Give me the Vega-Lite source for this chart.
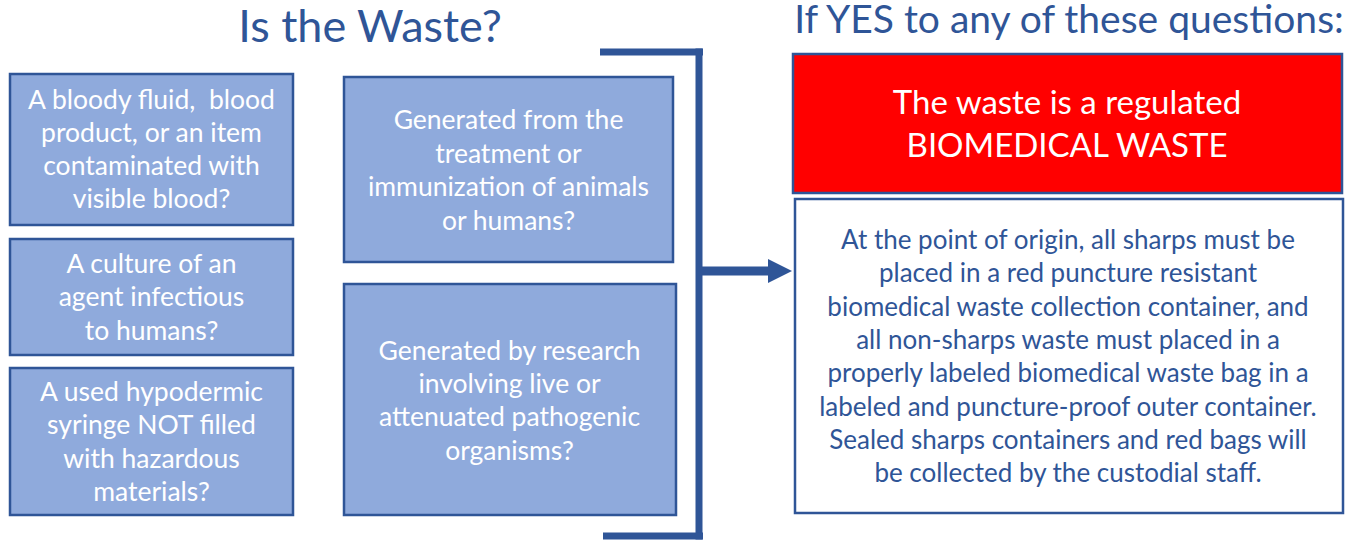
{
  "$schema": "https://vega.github.io/schema/vega-lite/v6.json",
  "width": 1347,
  "height": 540,
  "padding": 0,
  "autosize": {"type": "none"},
  "background": "white",
  "config": {"view": {"stroke": null}},
  "datasets": {
    "boxes": [
      {"box": "q1", "kind": "question", "x": 10, "x2": 293, "y": 74, "y2": 225},
      {"box": "q2", "kind": "question", "x": 10, "x2": 293, "y": 239, "y2": 355},
      {"box": "q3", "kind": "question", "x": 10, "x2": 293, "y": 368, "y2": 515},
      {"box": "q4", "kind": "question", "x": 344, "x2": 673, "y": 77, "y2": 262},
      {"box": "q5", "kind": "question", "x": 344, "x2": 676, "y": 284, "y2": 515},
      {"box": "result", "kind": "result", "x": 793, "x2": 1342, "y": 54, "y2": 193},
      {"box": "info", "kind": "info", "x": 795, "x2": 1343, "y": 199, "y2": 513}
    ],
    "bracket": [
      {"seg": "top", "x": 600, "x2": 703, "y": 52, "y2": 52},
      {"seg": "spine", "x": 699, "x2": 699, "y": 48.5, "y2": 539.5},
      {"seg": "bottom", "x": 603, "x2": 703, "y": 536, "y2": 536},
      {"seg": "shaft", "x": 699, "x2": 772, "y": 271, "y2": 271}
    ],
    "arrowhead": [
      {"x": 780, "y": 271}
    ],
    "texts": [
      {"role": "title", "x": 370, "y": 28, "t": "Is the Waste?"},
      {"role": "title2", "x": 1069, "y": 21, "t": "If YES to any of these questions:"},
      {"role": "question", "x": 151.5, "y": 101, "t": "A bloody fluid,\u00a0 blood"},
      {"role": "question", "x": 151.5, "y": 134, "t": "product, or an item"},
      {"role": "question", "x": 151.5, "y": 167, "t": "contaminated with"},
      {"role": "question", "x": 151.5, "y": 200, "t": "visible blood?"},
      {"role": "question", "x": 151.5, "y": 265, "t": "A culture of an"},
      {"role": "question", "x": 151.5, "y": 298, "t": "agent infectious"},
      {"role": "question", "x": 151.5, "y": 332, "t": "to humans?"},
      {"role": "question", "x": 151.5, "y": 393, "t": "A used hypodermic"},
      {"role": "question", "x": 151.5, "y": 426, "t": "syringe NOT filled"},
      {"role": "question", "x": 151.5, "y": 460, "t": "with hazardous"},
      {"role": "question", "x": 151.5, "y": 493, "t": "materials?"},
      {"role": "question", "x": 508.5, "y": 121, "t": "Generated from the"},
      {"role": "question", "x": 508.5, "y": 155, "t": "treatment or"},
      {"role": "question", "x": 508.5, "y": 188, "t": "immunization of animals"},
      {"role": "question", "x": 508.5, "y": 222, "t": "or humans?"},
      {"role": "question", "x": 509.5, "y": 352, "t": "Generated by research"},
      {"role": "question", "x": 509.5, "y": 385, "t": "involving live or"},
      {"role": "question", "x": 509.5, "y": 418, "t": "attenuated pathogenic"},
      {"role": "question", "x": 509.5, "y": 452, "t": "organisms?"},
      {"role": "result", "x": 1067, "y": 104, "t": "The waste is a regulated"},
      {"role": "result", "x": 1067, "y": 147, "t": "BIOMEDICAL WASTE"},
      {"role": "info", "x": 1068, "y": 241, "t": "At the point of origin, all sharps must be"},
      {"role": "info", "x": 1068, "y": 274, "t": "placed in a red puncture resistant"},
      {"role": "info", "x": 1068, "y": 308, "t": "biomedical waste collection container, and"},
      {"role": "info", "x": 1068, "y": 341, "t": "all non-sharps waste must placed in a"},
      {"role": "info", "x": 1068, "y": 374, "t": "properly labeled biomedical waste bag in a"},
      {"role": "info", "x": 1068, "y": 408, "t": "labeled and puncture-proof outer container."},
      {"role": "info", "x": 1068, "y": 441, "t": "Sealed sharps containers and red bags will"},
      {"role": "info", "x": 1068, "y": 474, "t": "be collected by the custodial staff."}
    ]
  },
  "encoding": {
    "x": {"field": "x", "type": "quantitative", "scale": {"domain": [0, 1347], "nice": false, "zero": false}, "axis": null},
    "y": {"field": "y", "type": "quantitative", "scale": {"domain": [0, 540], "nice": false, "zero": false, "reverse": true}, "axis": null}
  },
  "layer": [
    {
      "data": {"name": "boxes"},
      "transform": [{"filter": "datum.kind === 'question'"}],
      "mark": {"type": "rect", "fill": "#8FAADC", "stroke": "#2F5597", "strokeWidth": 2.5},
      "encoding": {"x2": {"field": "x2"}, "y2": {"field": "y2"}}
    },
    {
      "data": {"name": "boxes"},
      "transform": [{"filter": "datum.kind === 'result'"}],
      "mark": {"type": "rect", "fill": "#FF0000", "stroke": "#2F5597", "strokeWidth": 2.5},
      "encoding": {"x2": {"field": "x2"}, "y2": {"field": "y2"}}
    },
    {
      "data": {"name": "boxes"},
      "transform": [{"filter": "datum.kind === 'info'"}],
      "mark": {"type": "rect", "fill": "#FFFFFF", "stroke": "#2F5597", "strokeWidth": 2.5},
      "encoding": {"x2": {"field": "x2"}, "y2": {"field": "y2"}}
    },
    {
      "data": {"name": "bracket"},
      "transform": [{"filter": "datum.seg !== 'shaft'"}],
      "mark": {"type": "rule", "color": "#2F5597", "strokeWidth": 7, "strokeCap": "butt"},
      "encoding": {"x2": {"field": "x2"}, "y2": {"field": "y2"}}
    },
    {
      "data": {"name": "bracket"},
      "transform": [{"filter": "datum.seg === 'shaft'"}],
      "mark": {"type": "rule", "color": "#2F5597", "strokeWidth": 9, "strokeCap": "butt"},
      "encoding": {"x2": {"field": "x2"}, "y2": {"field": "y2"}}
    },
    {
      "data": {"name": "arrowhead"},
      "mark": {"type": "point", "shape": "M-1,-1L1,0L-1,1Z", "filled": true, "fill": "#2F5597", "opacity": 1, "strokeWidth": 0, "size": 576}
    },
    {
      "data": {"name": "texts"},
      "transform": [{"filter": "datum.role === 'title'"}],
      "mark": {"type": "text", "font": "Lato", "fontSize": 45, "color": "#2F5597", "align": "center", "baseline": "middle"},
      "encoding": {"text": {"field": "t"}}
    },
    {
      "data": {"name": "texts"},
      "transform": [{"filter": "datum.role === 'title2'"}],
      "mark": {"type": "text", "font": "Lato", "fontSize": 39, "color": "#2F5597", "align": "center", "baseline": "middle"},
      "encoding": {"text": {"field": "t"}}
    },
    {
      "data": {"name": "texts"},
      "transform": [{"filter": "datum.role === 'question'"}],
      "mark": {"type": "text", "font": "Lato", "fontSize": 26.5, "color": "#FFFFFF", "align": "center", "baseline": "middle"},
      "encoding": {"text": {"field": "t"}}
    },
    {
      "data": {"name": "texts"},
      "transform": [{"filter": "datum.role === 'result'"}],
      "mark": {"type": "text", "font": "Lato", "fontSize": 33, "color": "#FFFFFF", "align": "center", "baseline": "middle"},
      "encoding": {"text": {"field": "t"}}
    },
    {
      "data": {"name": "texts"},
      "transform": [{"filter": "datum.role === 'info'"}],
      "mark": {"type": "text", "font": "Lato", "fontSize": 26, "color": "#2F5597", "align": "center", "baseline": "middle"},
      "encoding": {"text": {"field": "t"}}
    }
  ]
}
